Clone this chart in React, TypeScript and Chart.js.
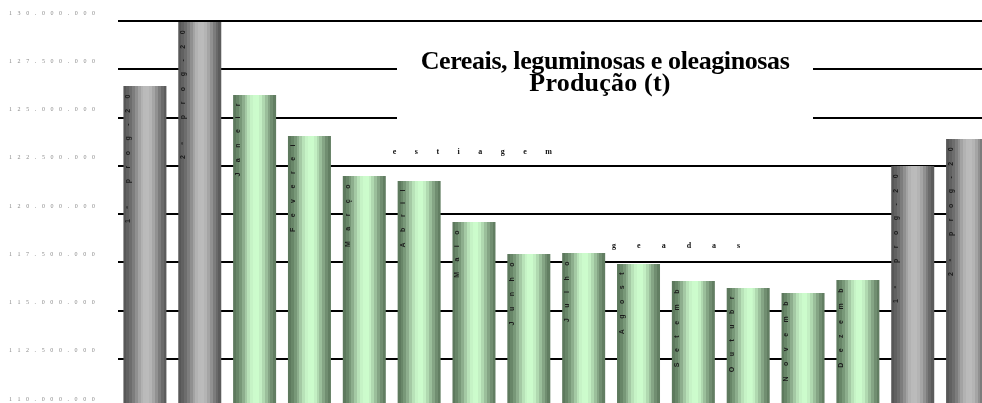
import { useEffect, useRef } from 'react';
import { Chart, registerables } from 'chart.js';

Chart.register(...registerables);

const categories = ['1º prog-20', '2º prog-20', 'Janeir', 'Feverei', 'Março', 'Abril', 'Maio', 'Junho', 'Julho', 'Agost', 'Setemb', 'Outubr', 'Novemb', 'Dezemb', '1º prog-20', '2º prog-20'];
const production = [126.63e6, 129.95e6, 126.17e6, 124.04e6, 121.97e6, 121.71e6, 119.59e6, 117.93e6, 117.98e6, 117.41e6, 116.53e6, 116.17e6, 115.91e6, 116.58e6, 122.49e6, 123.89e6];
const barKinds = ['prog', 'prog', 'month', 'month', 'month', 'month', 'month', 'month', 'month', 'month', 'month', 'month', 'month', 'month', 'prog', 'prog'];
const yMin = 110e6;
const yMax = 130e6;
const yStep = 2.5e6;
const titleLines = ['Cereais, leguminosas e oleaginosas', 'Produção (t)'];
const noteTexts = ['estiagem', 'geadas'];

const grayBands = ['#575757', '#616161', '#6d6d6d', '#7d7d7d', '#909090', '#a3a3a3', '#b2b2b2', '#bababa', '#bbbbbb', '#b4b4b4', '#a5a5a5', '#919191', '#7c7c7c', '#6a6a6a', '#5c5c5c'];
const greenBands = ['#5d795d', '#688668', '#789878', '#8dae8d', '#a4c9a4', '#b8e2b8', '#c6f3c6', '#ccfbcc', '#ccfccc', '#c3efc3', '#b0d9b0', '#9bbf9b', '#85a585', '#718e71', '#627e62'];

const fmt = (v: number) => String(Math.round(v)).replace(/\B(?=(\d{3})+(?!\d))/g, '.');

const decorPlugin = {
  id: 'decor',
  beforeDraw(chart: any) {
    chart.ctx.letterSpacing = '5.6px';
  },
  beforeDatasetsDraw(chart: any) {
    const ctx = chart.ctx;
    ctx.letterSpacing = '0px';
    ctx.save();
    ctx.fillStyle = '#ffffff';
    ctx.fillRect(397, 38, 416, 88);
    ctx.fillStyle = '#000000';
    ctx.font = 'bold 26px "Liberation Serif"';
    ctx.textAlign = 'center';
    ctx.textBaseline = 'alphabetic';
    ctx.letterSpacing = '-0.4px';
    ctx.fillText(titleLines[0], 605, 69);
    ctx.letterSpacing = '0.2px';
    ctx.fillText(titleLines[1], 600, 91);
    ctx.restore();
  },
  afterDatasetsDraw(chart: any) {
    const ctx = chart.ctx;
    const xs = chart.scales.x;
    const ys = chart.scales.y;
    const meta = chart.getDatasetMeta(0);
    meta.data.forEach((el: any, i: number) => {
      const { x, y, width } = el.getProps(['x', 'y', 'width'], true);
      ctx.save();
      ctx.translate(x - width / 2 + 5, y - 2);
      ctx.rotate(-Math.PI / 2);
      ctx.font = 'bold 7px "Liberation Sans"';
      ctx.letterSpacing = '10.5px';
      ctx.textAlign = 'right';
      ctx.textBaseline = 'middle';
      ctx.fillStyle = '#1a1a1a';
      ctx.fillText(categories[i], 0, 0);
      ctx.restore();
    });
    const half = (xs.getPixelForValue(1) - xs.getPixelForValue(0)) / 2;
    ctx.save();
    ctx.font = 'bold 8px "Liberation Serif"';
    ctx.textAlign = 'left';
    ctx.textBaseline = 'middle';
    ctx.fillStyle = '#111111';
    ctx.letterSpacing = '18.5px';
    ctx.fillText(noteTexts[0], xs.getPixelForValue(5) - half + 1, ys.getPixelForValue(123.22e6));
    ctx.letterSpacing = '21px';
    ctx.fillText(noteTexts[1], xs.getPixelForValue(9) - half + 1, ys.getPixelForValue(118.35e6));
    ctx.restore();
  },
};

export default function App() {
  const ref = useRef<HTMLCanvasElement | null>(null);
  useEffect(() => {
    if (!ref.current) return;
    const chart = new Chart(ref.current, {
      type: 'bar',
      data: {
        labels: categories,
        datasets: [
          {
            data: production,
            borderWidth: 0,
            barPercentage: 0.784,
            categoryPercentage: 1,
            backgroundColor: (c: any) => {
              const ch = c.chart;
              const area = ch.chartArea;
              if (!area || c.dataIndex === undefined) return '#aaaaaa';
              const xs = ch.scales.x;
              const cx = xs.getPixelForValue(c.dataIndex);
              const w = ((area.right - area.left) / categories.length) * 0.784;
              const g = ch.ctx.createLinearGradient(cx - w / 2, 0, cx + w / 2, 0);
              const bands = barKinds[c.dataIndex] === 'prog' ? grayBands : greenBands;
              const n = bands.length;
              bands.forEach((col, i) => {
                g.addColorStop(i / n, col);
                g.addColorStop(Math.min(1, (i + 1) / n - 0.0001), col);
              });
              return g;
            },
          },
        ],
      },
      options: {
        animation: false,
        responsive: false,
        devicePixelRatio: 1,
        layout: { padding: { top: 21, left: 9, right: 0, bottom: 5 } },
        plugins: { legend: { display: false }, tooltip: { enabled: false }, title: { display: false } },
        scales: {
          x: { display: false },
          y: {
            min: yMin,
            max: yMax,
            afterFit: (s: any) => {
              s.width = 108.5;
            },
            ticks: {
              stepSize: yStep,
              callback: (v: any) => fmt(Number(v)),
              color: '#8a8a8a',
              font: { family: 'Liberation Serif', size: 6 },
              crossAlign: 'far',
              labelOffset: -8,
              padding: 0,
            },
            grid: { color: '#000000', lineWidth: 2, drawTicks: false },
            border: { display: false },
          },
        },
      },
      plugins: [decorPlugin],
    });
    return () => chart.destroy();
  }, []);
  return (
    <div style={{ position: 'fixed', left: 0, top: 0, width: 995, height: 412, background: '#fff' }}>
      <canvas ref={ref} width={995} height={412} />
    </div>
  );
}
